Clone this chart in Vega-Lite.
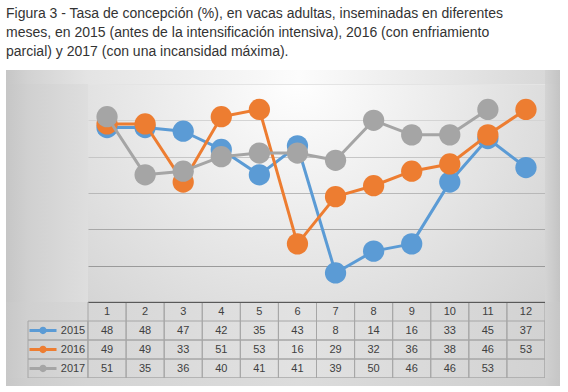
{
  "$schema": "https://vega.github.io/schema/vega-lite/v6.json",
  "padding": {"left": 6, "top": 7, "right": 8, "bottom": 6},
  "background": "#ffffff",
  "bounds": "flush",
  "title": {
    "text": [
      "Figura 3 - Tasa de concepción (%), en vacas adultas, inseminadas en diferentes",
      "meses, en 2015 (antes de la intensificación intensiva), 2016 (con enfriamiento",
      "parcial) y 2017 (con una incansidad máxima)."
    ],
    "anchor": "start",
    "frame": "bounds",
    "font": "Liberation Sans",
    "fontSize": 14,
    "fontWeight": "normal",
    "color": "#333333",
    "lineHeight": 19,
    "offset": 11
  },
  "datasets": {
    "d": [
      {"month": 1, "series": "2015", "value": 48},
      {"month": 2, "series": "2015", "value": 48},
      {"month": 3, "series": "2015", "value": 47},
      {"month": 4, "series": "2015", "value": 42},
      {"month": 5, "series": "2015", "value": 35},
      {"month": 6, "series": "2015", "value": 43},
      {"month": 7, "series": "2015", "value": 8},
      {"month": 8, "series": "2015", "value": 14},
      {"month": 9, "series": "2015", "value": 16},
      {"month": 10, "series": "2015", "value": 33},
      {"month": 11, "series": "2015", "value": 45},
      {"month": 12, "series": "2015", "value": 37},
      {"month": 1, "series": "2016", "value": 49},
      {"month": 2, "series": "2016", "value": 49},
      {"month": 3, "series": "2016", "value": 33},
      {"month": 4, "series": "2016", "value": 51},
      {"month": 5, "series": "2016", "value": 53},
      {"month": 6, "series": "2016", "value": 16},
      {"month": 7, "series": "2016", "value": 29},
      {"month": 8, "series": "2016", "value": 32},
      {"month": 9, "series": "2016", "value": 36},
      {"month": 10, "series": "2016", "value": 38},
      {"month": 11, "series": "2016", "value": 46},
      {"month": 12, "series": "2016", "value": 53},
      {"month": 1, "series": "2017", "value": 51},
      {"month": 2, "series": "2017", "value": 35},
      {"month": 3, "series": "2017", "value": 36},
      {"month": 4, "series": "2017", "value": 40},
      {"month": 5, "series": "2017", "value": 41},
      {"month": 6, "series": "2017", "value": 41},
      {"month": 7, "series": "2017", "value": 39},
      {"month": 8, "series": "2017", "value": 50},
      {"month": 9, "series": "2017", "value": 46},
      {"month": 10, "series": "2017", "value": 46},
      {"month": 11, "series": "2017", "value": 53}
    ]
  },
  "columns": 4,
  "spacing": 0,
  "concat": [
    {"width": 22, "height": 14, "view": {"stroke": null, "fill": {"gradient": "linear", "x1": 0, "y1": 0, "x2": 1, "y2": 0, "stops": [{"offset": 0, "color": "#c6c6c6"}, {"offset": 1, "color": "#d2d2d2"}]}}, "data": {"values": [{}]}, "mark": {"type": "text", "text": ""}, "encoding": {}},
    {"width": 60, "height": 14, "view": {"stroke": null, "fill": {"gradient": "linear", "x1": 0, "y1": 0, "x2": 1, "y2": 0, "stops": [{"offset": 0, "color": "#d2d2d2"}, {"offset": 1, "color": "#e4e4e4"}]}}, "data": {"values": [{}]}, "mark": {"type": "text", "text": ""}, "encoding": {}},
    {"width": 457, "height": 14, "view": {"stroke": null, "fill": {"gradient": "linear", "x1": 0, "y1": 0, "x2": 1, "y2": 0, "stops": [{"offset": 0, "color": "#e4e4e4"}, {"offset": 0.46, "color": "#fcfcfc"}, {"offset": 1, "color": "#d8d8d8"}]}}, "data": {"values": [{}]}, "mark": {"type": "text", "text": ""}, "encoding": {}},
    {"width": 15, "height": 14, "view": {"stroke": null, "fill": {"gradient": "linear", "x1": 0, "y1": 0, "x2": 1, "y2": 0, "stops": [{"offset": 0, "color": "#d2d2d2"}, {"offset": 1, "color": "#c4c4c4"}]}}, "data": {"values": [{}]}, "mark": {"type": "text", "text": ""}, "encoding": {}},

    {"width": 22, "height": 218, "view": {"stroke": null, "fill": {"gradient": "linear", "x1": 0, "y1": 0, "x2": 1, "y2": 0, "stops": [{"offset": 0, "color": "#c6c6c6"}, {"offset": 1, "color": "#d0d0d0"}]}}, "data": {"values": [{}]}, "mark": {"type": "text", "text": ""}, "encoding": {}},
    {"width": 60, "height": 218, "view": {"stroke": null, "fill": {"gradient": "linear", "x1": 0, "y1": 0, "x2": 1, "y2": 0, "stops": [{"offset": 0, "color": "#d0d0d0"}, {"offset": 1, "color": "#dedede"}]}}, "data": {"values": [{}]}, "mark": {"type": "text", "text": ""}, "encoding": {}},
    {
      "width": 457,
      "height": 218,
      "view": {"stroke": null, "fill": {"gradient": "radial", "x1": 0.46, "y1": 0.25, "r1": 0, "x2": 0.46, "y2": 0.25, "r2": 0.75, "stops": [{"offset": 0, "color": "#ffffff"}, {"offset": 1, "color": "#d0d0d0"}]}},
      "data": {"name": "d"},
      "encoding": {
        "x": {"field": "month", "type": "ordinal", "scale": {"type": "point", "padding": 0.5}, "axis": null},
        "y": {
          "field": "value",
          "type": "quantitative",
          "scale": {"domain": [0, 60], "nice": false, "zero": true},
          "axis": {
            "values": [10, 20, 30, 40, 50, 60],
            "grid": true,
            "labels": false,
            "ticks": false,
            "domain": false,
            "title": null,
            "minExtent": 0,
            "gridWidth": 1,
            "gridColor": {
              "condition": [
                {"test": "datum.value >= 60", "value": "#e4e4e4"},
                {"test": "datum.value >= 50", "value": "#d4d4d4"},
                {"test": "datum.value >= 40", "value": "#c6c6c6"},
                {"test": "datum.value >= 30", "value": "#b8b8b8"},
                {"test": "datum.value >= 20", "value": "#a8a8a8"}
              ],
              "value": "#9a9a9a"
            }
          }
        }
      },
      "layer": [
        {"transform": [{"filter": "datum.series === '2015'"}], "mark": {"type": "line", "color": "#5B9BD5", "strokeWidth": 3, "strokeJoin": "round"}, "encoding": {}},
        {"transform": [{"filter": "datum.series === '2015'"}], "mark": {"type": "point", "color": "#5B9BD5", "filled": true, "size": 452, "opacity": 1}, "encoding": {}},
        {"transform": [{"filter": "datum.series === '2016'"}], "mark": {"type": "line", "color": "#ED7D31", "strokeWidth": 3, "strokeJoin": "round"}, "encoding": {}},
        {"transform": [{"filter": "datum.series === '2016'"}], "mark": {"type": "point", "color": "#ED7D31", "filled": true, "size": 452, "opacity": 1}, "encoding": {}},
        {"transform": [{"filter": "datum.series === '2017'"}], "mark": {"type": "line", "color": "#A5A5A5", "strokeWidth": 3, "strokeJoin": "round"}, "encoding": {}},
        {"transform": [{"filter": "datum.series === '2017'"}], "mark": {"type": "point", "color": "#A5A5A5", "filled": true, "size": 452, "opacity": 1}, "encoding": {}}
      ]
    },
    {"width": 15, "height": 218, "view": {"stroke": null, "fill": {"gradient": "linear", "x1": 0, "y1": 0, "x2": 1, "y2": 0, "stops": [{"offset": 0, "color": "#d4d4d4"}, {"offset": 1, "color": "#c4c4c4"}]}}, "data": {"values": [{}]}, "mark": {"type": "text", "text": ""}, "encoding": {}},

    {"width": 22, "height": 76, "view": {"stroke": null, "fill": {"gradient": "linear", "x1": 0, "y1": 0, "x2": 1, "y2": 0, "stops": [{"offset": 0, "color": "#c8c8c8"}, {"offset": 1, "color": "#d0d0d0"}]}}, "data": {"values": [{}]}, "mark": {"type": "text", "text": ""}, "encoding": {}},
    {
      "width": 60,
      "height": 76,
      "view": {"stroke": null, "fill": {"gradient": "linear", "x1": 0, "y1": 0, "x2": 1, "y2": 0, "stops": [{"offset": 0, "color": "#d0d0d0"}, {"offset": 1, "color": "#d8d8d8"}]}},
      "data": {"name": "d"},
      "transform": [{"aggregate": [{"op": "count", "as": "n"}], "groupby": ["series"]}],
      "encoding": {
        "y": {"field": "series", "type": "ordinal", "scale": {"domain": ["m", "2015", "2016", "2017"], "paddingInner": 0, "paddingOuter": 0}, "axis": null}
      },
      "layer": [
        {"mark": {"type": "rect", "fill": "transparent", "stroke": "#a6a6a6", "strokeWidth": 1}, "encoding": {}},
        {
          "mark": {"type": "point", "shape": "M-1,-0.11L1,-0.11L1,0.11L-1,0.11Z M-0.27,0 A0.27,0.27 0 1 1 0.27,0 A0.27,0.27 0 1 1 -0.27,0 Z", "filled": true, "size": 729, "opacity": 1, "strokeWidth": 0},
          "encoding": {
            "x": {"datum": "sym", "type": "nominal", "scale": {"type": "point", "domain": ["sym", "lab"], "padding": 0.5}, "axis": null},
            "color": {"field": "series", "type": "nominal", "scale": {"domain": ["2015", "2016", "2017"], "range": ["#5B9BD5", "#ED7D31", "#A5A5A5"]}, "legend": null}
          }
        },
        {
          "mark": {"type": "text", "font": "Liberation Sans", "fontSize": 11, "color": "#404040", "baseline": "middle", "align": "center"},
          "encoding": {
            "x": {"datum": "lab", "type": "nominal"},
            "text": {"field": "series"}
          }
        }
      ]
    },
    {
      "width": 457,
      "height": 76,
      "view": {"stroke": null, "fill": {"gradient": "linear", "x1": 0, "y1": 0, "x2": 1, "y2": 0, "stops": [{"offset": 0, "color": "#d6d6d6"}, {"offset": 0.46, "color": "#e2e2e2"}, {"offset": 1, "color": "#d2d2d2"}]}},
      "data": {"name": "d"},
      "layer": [
        {
          "transform": [{"aggregate": [{"op": "count", "as": "n"}], "groupby": ["month"]}],
          "mark": {"type": "rect", "fill": "transparent", "stroke": "#a6a6a6", "strokeWidth": 1},
          "encoding": {
            "x": {"field": "month", "type": "ordinal", "scale": {"type": "band", "paddingInner": 0, "paddingOuter": 0}, "axis": {"orient": "top", "domain": true, "domainColor": "#595959", "domainWidth": 1, "labels": false, "ticks": false, "grid": false, "title": null, "zindex": 1}}
          }
        },
        {
          "transform": [{"aggregate": [{"op": "count", "as": "n"}], "groupby": ["series"]}],
          "mark": {"type": "rect", "fill": "transparent", "stroke": "#a6a6a6", "strokeWidth": 1},
          "encoding": {
            "y": {"field": "series", "type": "ordinal", "scale": {"domain": ["m", "2015", "2016", "2017"], "paddingInner": 0, "paddingOuter": 0}, "axis": null}
          }
        },
        {
          "transform": [{"aggregate": [{"op": "count", "as": "n"}], "groupby": ["month"]}],
          "mark": {"type": "text", "font": "Liberation Sans", "fontSize": 11, "color": "#404040", "baseline": "middle", "align": "center"},
          "encoding": {
            "x": {"field": "month", "type": "ordinal"},
            "y": {"datum": "m", "type": "ordinal"},
            "text": {"field": "month"}
          }
        },
        {
          "mark": {"type": "text", "font": "Liberation Sans", "fontSize": 11, "color": "#404040", "baseline": "middle", "align": "center"},
          "encoding": {
            "x": {"field": "month", "type": "ordinal"},
            "y": {"field": "series", "type": "ordinal"},
            "text": {"field": "value"}
          }
        }
      ]
    },
    {"width": 15, "height": 76, "view": {"stroke": null, "fill": {"gradient": "linear", "x1": 0, "y1": 0, "x2": 1, "y2": 0, "stops": [{"offset": 0, "color": "#d0d0d0"}, {"offset": 1, "color": "#c6c6c6"}]}}, "data": {"values": [{}]}, "mark": {"type": "text", "text": ""}, "encoding": {}},

    {"width": 22, "height": 8, "view": {"stroke": null, "fill": {"gradient": "linear", "x1": 0, "y1": 0, "x2": 1, "y2": 0, "stops": [{"offset": 0, "color": "#c8c8c8"}, {"offset": 1, "color": "#cecece"}]}}, "data": {"values": [{}]}, "mark": {"type": "text", "text": ""}, "encoding": {}},
    {"width": 60, "height": 8, "view": {"stroke": null, "fill": {"gradient": "linear", "x1": 0, "y1": 0, "x2": 1, "y2": 0, "stops": [{"offset": 0, "color": "#cecece"}, {"offset": 1, "color": "#d4d4d4"}]}}, "data": {"values": [{}]}, "mark": {"type": "text", "text": ""}, "encoding": {}},
    {"width": 457, "height": 8, "view": {"stroke": null, "fill": {"gradient": "linear", "x1": 0, "y1": 0, "x2": 1, "y2": 0, "stops": [{"offset": 0, "color": "#d4d4d4"}, {"offset": 0.46, "color": "#dcdcdc"}, {"offset": 1, "color": "#cecece"}]}}, "data": {"values": [{}]}, "mark": {"type": "text", "text": ""}, "encoding": {}},
    {"width": 15, "height": 8, "view": {"stroke": null, "fill": {"gradient": "linear", "x1": 0, "y1": 0, "x2": 1, "y2": 0, "stops": [{"offset": 0, "color": "#cecece"}, {"offset": 1, "color": "#c6c6c6"}]}}, "data": {"values": [{}]}, "mark": {"type": "text", "text": ""}, "encoding": {}}
  ],
  "config": {
    "view": {"stroke": null},
    "text": {"font": "Liberation Sans"}
  }
}
